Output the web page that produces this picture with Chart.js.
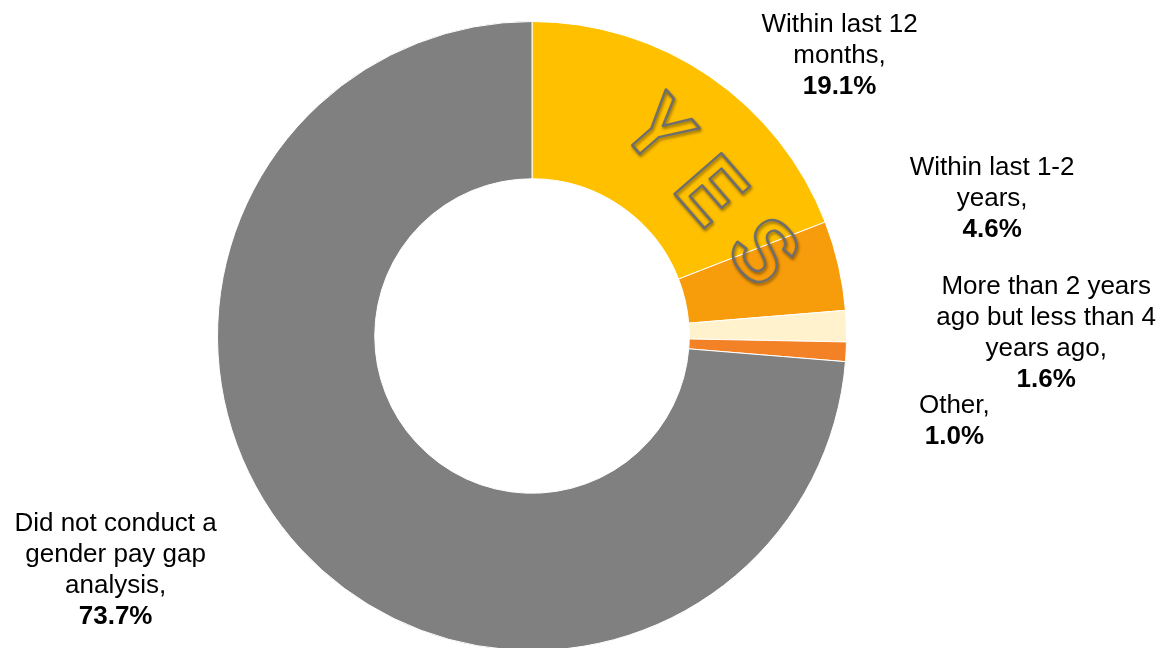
<!DOCTYPE html>
<html>
<head>
<meta charset="utf-8">
<script src="https://cdn.jsdelivr.net/npm/chart.js@4/dist/chart.umd.min.js"></script>
<style>
  html, body { margin: 0; padding: 0; background: #fff; overflow: hidden; }
  #wrap { position: relative; width: 1163px; height: 651px; }
</style>
</head>
<body>
<div id="wrap"><canvas id="c"></canvas></div>
<script>
// ---- data ----
const categories = [
  'Within last 12 months',
  'Within last 1-2 years',
  'More than 2 years ago but less than 4 years ago',
  'Other',
  'Did not conduct a gender pay gap analysis'
];
const values = [19.1, 4.6, 1.6, 1.0, 73.7];
const labelLines = [
  ['Within last 12', 'months,'],
  ['Within last 1-2', 'years,'],
  ['More than 2 years', 'ago but less than 4', 'years ago,'],
  ['Other,'],
  ['Did not conduct a', 'gender pay gap', 'analysis,']
];
const overlayText = 'YES';

// ---- styling ----
const colors = ['#FFC000', '#F79C0B', '#FFF2CC', '#F38226', '#808080'];
// label anchors (first line centre) in units of outer radius, relative to centre
const labelAnchors = [
  [0.978, -0.99],
  [1.463, -0.535],
  [1.635, -0.155],
  [1.343, 0.222],
  [-1.324, 0.597]
];
const lineH = 31;
const fontPx = 26;

const labelPlugin = {
  id: 'labels',
  afterDatasetsDraw(chart) {
    const ctx = chart.ctx;
    const meta = chart.getDatasetMeta(0);
    const arc = meta.data[0];
    const cx = arc.x, cy = arc.y, R = arc.outerRadius;

    // YES overlay
    ctx.save();
    ctx.translate(cx + 0.558 * R, cy - 0.452 * R);
    ctx.rotate(49 * Math.PI / 180);
    ctx.font = 'bold ' + Math.round(0.285 * R) + 'px "Liberation Sans", Arial, sans-serif';
    ctx.textAlign = 'center';
    ctx.textBaseline = 'middle';
    ctx.lineWidth = 2.6;
    ctx.lineJoin = 'round';
    ctx.strokeStyle = '#6e6e6e';
    ctx.shadowColor = 'rgba(0,0,0,0.45)';
    ctx.shadowBlur = 3;
    ctx.shadowOffsetX = 1;
    ctx.shadowOffsetY = 2;
    const sp = 0.256 * R;
    const letters = overlayText.split('');
    letters.forEach((ch, i) => {
      const x = (i - (letters.length - 1) / 2) * sp;
      ctx.save();
      ctx.translate(x, 0);
      ctx.scale(0.9, 1);
      ctx.strokeText(ch, 0, 0);
      ctx.restore();
    });
    ctx.restore();

    // data labels
    ctx.save();
    ctx.textAlign = 'center';
    ctx.textBaseline = 'middle';
    ctx.fillStyle = '#000';
    labelLines.forEach((lines, i) => {
      const ax = cx + labelAnchors[i][0] * R;
      let y = cy + labelAnchors[i][1] * R;
      ctx.font = fontPx + 'px "Liberation Sans", Arial, sans-serif';
      lines.forEach(t => { ctx.fillText(t, ax, y); y += lineH; });
      ctx.font = 'bold ' + fontPx + 'px "Liberation Sans", Arial, sans-serif';
      ctx.fillText(values[i].toFixed(1) + '%', ax, y);
    });
    ctx.restore();
  }
};

new Chart(document.getElementById('c'), {
  type: 'doughnut',
  data: {
    labels: categories,
    datasets: [{
      data: values,
      backgroundColor: colors,
      borderColor: '#ffffff',
      borderWidth: 1
    }]
  },
  options: {
    responsive: true,
    maintainAspectRatio: false,
    animation: false,
    cutout: '50%',
    layout: { padding: { left: 217, right: 316, top: 21, bottom: 0 } },
    plugins: {
      legend: { display: false },
      tooltip: { enabled: false }
    }
  },
  plugins: [labelPlugin]
});
</script>
</body>
</html>
